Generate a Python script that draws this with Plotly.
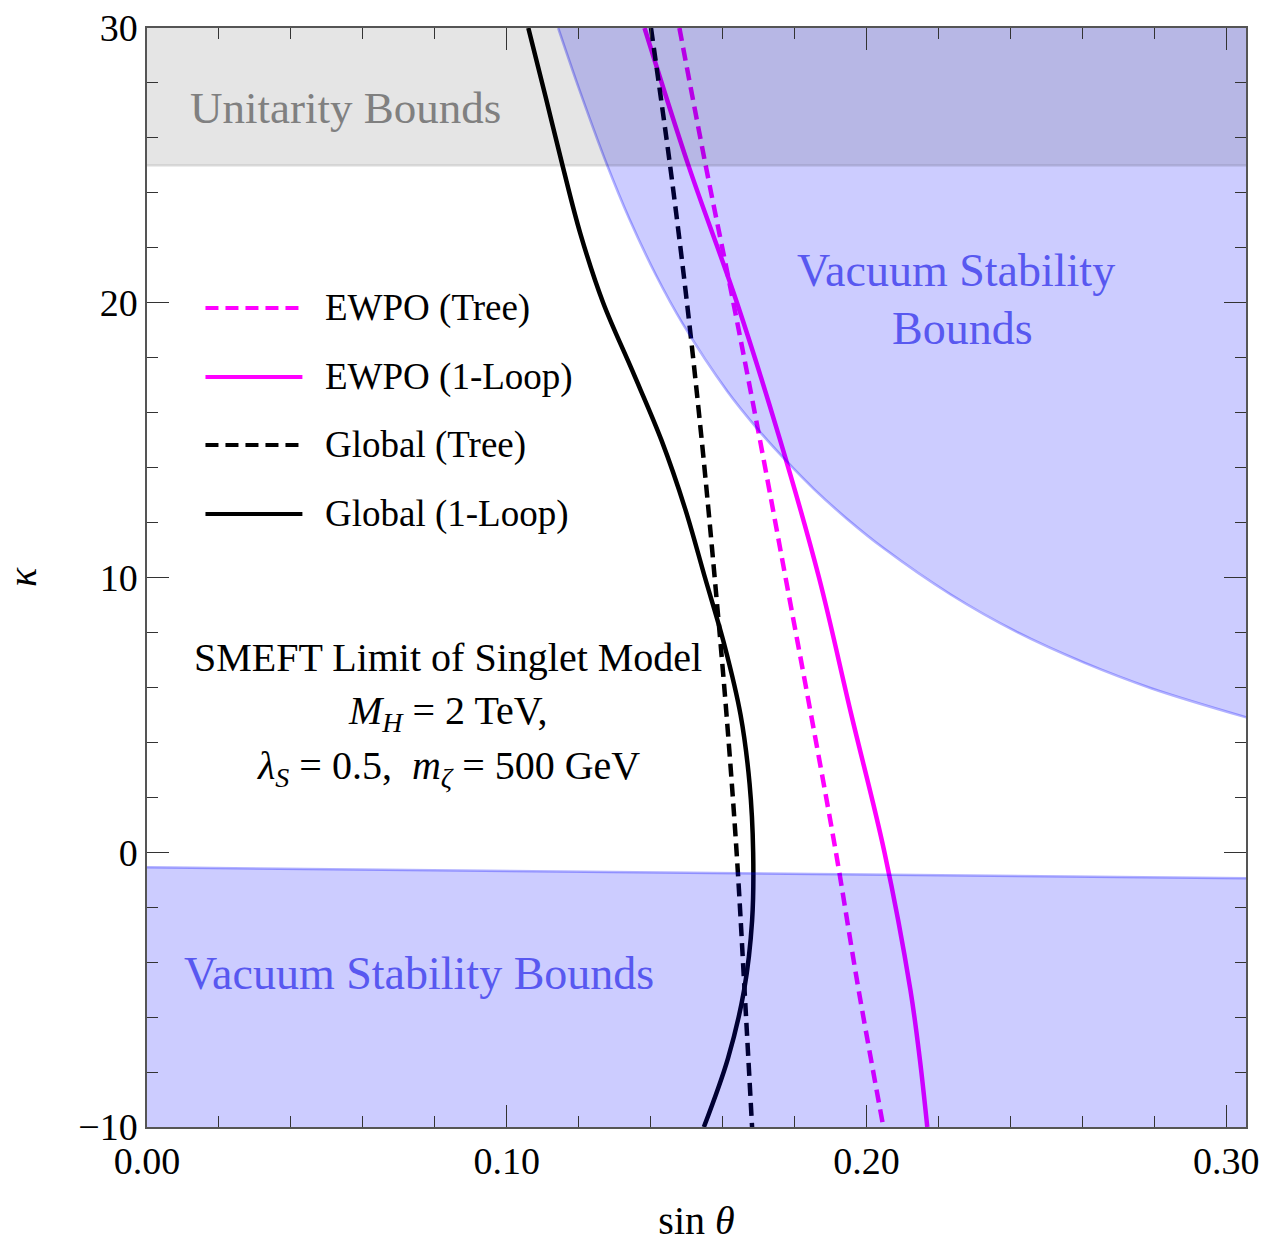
import plotly.graph_objects as go

# ---- exclusion contours in the (sin theta, kappa) plane ----
ewpo_tree_k = [30.0, 25.0, 20.0, 15.0, 10.0, 5.0, 0.0, -5.0, -10.0]
ewpo_tree_s = [0.1480, 0.1553, 0.1630, 0.1704, 0.1775, 0.1846, 0.1915, 0.1978, 0.2047]

ewpo_loop_k = [30.0, 25.0, 20.0, 15.0, 10.0, 5.0, 0.0, -5.0, -7.5, -10.0]
ewpo_loop_s = [0.1383, 0.1505, 0.1640, 0.1760, 0.1868, 0.1958, 0.2050, 0.2122, 0.2148, 0.2169]

glob_tree_k = [30.0, 25.0, 20.0, 15.0, 10.0, 5.0, 0.0, -5.0, -10.0]
glob_tree_s = [0.1401, 0.1454, 0.1501, 0.1542, 0.1578, 0.1611, 0.1639, 0.1661, 0.1682]

glob_loop_k = [30.0, 27.5, 25.0, 22.5, 20.0, 17.5, 15.0, 12.5, 10.0, 7.5, 5.0, 2.5,
               0.0, -2.5, -5.0, -7.5, -10.0]
glob_loop_s = [0.1060, 0.1108, 0.1155, 0.1205, 0.1268, 0.1350, 0.1430, 0.1496, 0.1551,
               0.1606, 0.1650, 0.1675, 0.1685, 0.1682, 0.1660, 0.1615, 0.1548]

# ---- vacuum stability boundaries ----
vac_upper_s = [0.1143, 0.1202, 0.1277, 0.1341, 0.1415, 0.1489, 0.1613, 0.1696, 0.1775,
               0.1854, 0.1947, 0.2047, 0.2234, 0.2419, 0.2605, 0.2791, 0.3058]
vac_upper_k = [30.0, 27.75, 25.08, 23.05, 21.0, 19.24, 16.78, 15.42, 14.27,
               13.22, 12.12, 11.07, 9.38, 8.01, 6.90, 5.97, 4.90]

vac_lower_s = [0.0, 0.3058]
vac_lower_k = [-0.55, -0.95]

# ---- perturbative unitarity ----
unitarity_k = 25.0

X_RANGE = [0.0, 0.3055]
Y_RANGE = [-10.0, 30.0]

DASH = "13px,7px"
curves = [
    ("EWPO (Tree)", ewpo_tree_s, ewpo_tree_k, "#ff00ff", DASH),
    ("EWPO (1-Loop)", ewpo_loop_s, ewpo_loop_k, "#ff00ff", "solid"),
    ("Global (Tree)", glob_tree_s, glob_tree_k, "#000000", DASH),
    ("Global (1-Loop)", glob_loop_s, glob_loop_k, "#000000", "solid"),
]

SERIF = "Liberation Serif, Times New Roman, serif"
BLUE_FILL = "rgba(0,0,255,0.2)"
BLUE_EDGE = "rgba(0,0,255,0.3)"
GRAY_FILL = "rgba(0,0,0,0.1)"
BLUE_TEXT = "rgb(88,88,240)"

fig = go.Figure()

# contour lines first, shaded regions are layered translucently on top
for name, s, k, col, dash in curves:
    fig.add_trace(go.Scatter(
        x=s, y=k, mode="lines", name=name, showlegend=False,
        line=dict(color=col, width=4.5, dash=dash, shape="spline", smoothing=1.0),
    ))

# upper vacuum stability region
fig.add_trace(go.Scatter(
    x=vac_upper_s + [X_RANGE[1] + 0.01, X_RANGE[1] + 0.01, vac_upper_s[0]],
    y=vac_upper_k + [vac_upper_k[-1], Y_RANGE[1] + 1, Y_RANGE[1] + 1],
    fill="toself", fillcolor=BLUE_FILL, mode="lines", line=dict(width=0),
    showlegend=False, hoverinfo="skip",
))
fig.add_trace(go.Scatter(
    x=vac_upper_s, y=vac_upper_k, mode="lines",
    line=dict(color=BLUE_EDGE, width=2.5, shape="spline", smoothing=1.0),
    showlegend=False, hoverinfo="skip",
))

# lower vacuum stability region
fig.add_trace(go.Scatter(
    x=vac_lower_s + [vac_lower_s[-1], vac_lower_s[0]],
    y=vac_lower_k + [Y_RANGE[0] - 1, Y_RANGE[0] - 1],
    fill="toself", fillcolor=BLUE_FILL, mode="lines", line=dict(width=0),
    showlegend=False, hoverinfo="skip",
))
fig.add_trace(go.Scatter(
    x=vac_lower_s, y=vac_lower_k, mode="lines",
    line=dict(color=BLUE_EDGE, width=2.5),
    showlegend=False, hoverinfo="skip",
))

# unitarity band
fig.add_trace(go.Scatter(
    x=[X_RANGE[0] - 0.01, X_RANGE[1] + 0.01, X_RANGE[1] + 0.01, X_RANGE[0] - 0.01],
    y=[unitarity_k, unitarity_k, Y_RANGE[1] + 1, Y_RANGE[1] + 1],
    fill="toself", fillcolor=GRAY_FILL, mode="lines", line=dict(width=0),
    showlegend=False, hoverinfo="skip",
))
fig.add_trace(go.Scatter(
    x=[X_RANGE[0], X_RANGE[1]], y=[unitarity_k, unitarity_k], mode="lines",
    line=dict(color="rgba(0,0,0,0.1)", width=2.5),
    showlegend=False, hoverinfo="skip",
))

# hand-drawn legend with long line samples
leg_x0, leg_x1, leg_tx = 0.0532, 0.1414, 0.1605
leg_y = [0.7452, 0.6824, 0.6206, 0.5578]
shapes = []
annotations = []
for (name, _, _, col, dash), yy in zip(curves, leg_y):
    shapes.append(dict(type="line", xref="paper", yref="paper",
                       x0=leg_x0, x1=leg_x1, y0=yy, y1=yy,
                       line=dict(color=col, width=4, dash=dash)))
    annotations.append(dict(xref="paper", yref="paper", x=leg_tx, y=yy,
                            xanchor="left", yanchor="middle", showarrow=False,
                            text=name, font=dict(family=SERIF, size=37, color="black")))

# region labels
annotations += [
    dict(xref="paper", yref="paper", x=0.0377, y=0.927, xanchor="left", yanchor="middle",
         showarrow=False, text="Unitarity Bounds",
         font=dict(family=SERIF, size=45, color="rgb(128,128,128)")),
    dict(xref="paper", yref="paper", x=0.736, y=0.779, xanchor="center", yanchor="middle",
         showarrow=False, text="Vacuum Stability",
         font=dict(family=SERIF, size=46, color=BLUE_TEXT)),
    dict(xref="paper", yref="paper", x=0.742, y=0.727, xanchor="center", yanchor="middle",
         showarrow=False, text="Bounds",
         font=dict(family=SERIF, size=46, color=BLUE_TEXT)),
    dict(xref="paper", yref="paper", x=0.0314, y=0.140, xanchor="left", yanchor="middle",
         showarrow=False, text="Vacuum Stability Bounds",
         font=dict(family=SERIF, size=46, color=BLUE_TEXT)),
]

# model parameters
param_lines = [
    "SMEFT Limit of Singlet Model",
    "<i>M</i><sub><i>H</i></sub> = 2 TeV,",
    "<i>λ</i><sub><i>S</i></sub> = 0.5,  <i>m</i><sub><i>ζ</i></sub> = 500 GeV",
]
for txt, yy in zip(param_lines, [0.4268, 0.3767, 0.3267]):
    annotations.append(dict(xref="paper", yref="paper", x=0.2742, y=yy,
                            xanchor="center", yanchor="middle", showarrow=False,
                            text=txt, font=dict(family=SERIF, size=40, color="black")))

axis_common = dict(
    showgrid=False, zeroline=False, showline=True, linecolor="#555555", linewidth=1.5,
    mirror="allticks", ticks="inside", ticklen=22, tickwidth=1, tickcolor="#333333",
    tickfont=dict(family=SERIF, size=38, color="black"), automargin=False,
)

fig.update_layout(
    width=1265, height=1243,
    margin=dict(l=147, r=19, t=28, b=116, autoexpand=False),
    paper_bgcolor="white", plot_bgcolor="white",
    showlegend=False,
    shapes=shapes, annotations=annotations,
    xaxis=dict(
        range=X_RANGE, tickvals=[0.0, 0.1, 0.2, 0.3], tickformat=".2f",
        minor=dict(dtick=0.02, tick0=0, ticks="inside", ticklen=11, tickcolor="#333333",
                   tickwidth=1, showgrid=False),
        title=dict(text="sin <i>θ</i>", font=dict(family=SERIF, size=40, color="black"),
                   standoff=34),
        **axis_common,
    ),
    yaxis=dict(
        range=Y_RANGE, tickvals=[-10, 0, 10, 20, 30],
        minor=dict(dtick=2, tick0=0, ticks="inside", ticklen=11, tickcolor="#333333",
                   tickwidth=1, showgrid=False),
        title=dict(text="<i>κ</i>", font=dict(family=SERIF, size=40, color="black"),
                   standoff=38),
        **axis_common,
    ),
)

fig.write_html("out.html")
